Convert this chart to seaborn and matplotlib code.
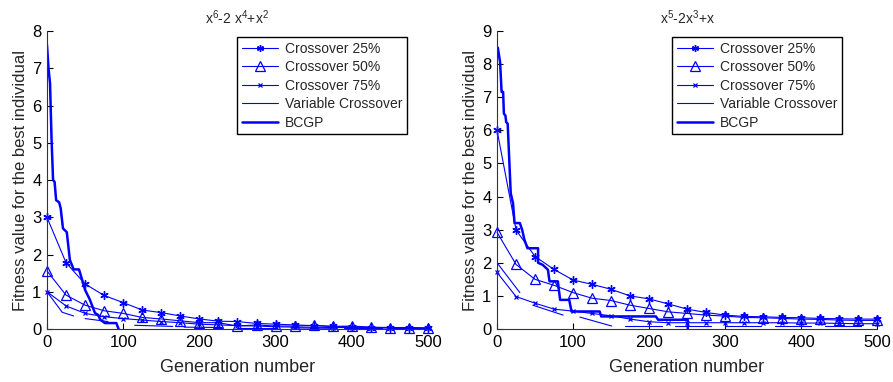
"""
plot.py - best-individual fitness vs generation, two test functions
"""

import numpy as np
import pandas as pd
import matplotlib
matplotlib.use("Agg")
import matplotlib.pyplot as plt
from matplotlib.lines import Line2D
import seaborn as sns

# ==================== data ====================

# markers every 25 generations
gens = list(range(0, 501, 25))

# --- x^6-2x^4+x^2 ---
left_c25 = [3.0, 1.78, 1.21, 0.9, 0.71, 0.51, 0.44, 0.35, 0.27, 0.21, 0.2,
            0.15, 0.13, 0.11, 0.09, 0.07, 0.06, 0.04, 0.03, 0.03, 0.02]
left_c50 = [1.56, 0.91, 0.64, 0.49, 0.42, 0.31, 0.27, 0.22, 0.17, 0.17, 0.08,
            0.11, 0.08, 0.08, 0.1, 0.07, 0.08, 0.05, 0.04, 0.04, 0.03]
left_c75 = [1.0, 0.62, 0.42, 0.33, 0.28, 0.24, 0.2, 0.17, 0.13, 0.11, 0.09,
            0.08, 0.06, 0.05, 0.05, 0.04, 0.04, 0.03, 0.03, 0.02, 0.02]
# variable crossover is drawn in broken pieces
left_var_gen = [0, 20, 35, 50, 80, 115, 165, 180, 230, 250, 300, 320, 370, 390, 440, 450, 500]
left_var_val = [1.0, 0.45, 0.35, 0.28, 0.2, 0.1, 0.07, 0.05, 0.04, 0.03, 0.03, 0.03, 0.02, 0.02, 0.02, 0.02, 0.02]
left_var_seg = [0, 0, 0, 1, 1, 2, 2, 3, 3, 4, 4, 5, 5, 6, 6, 7, 7]
left_bcgp_gen = [0, 2, 4, 6, 8, 10, 12, 16, 18, 21, 26, 30, 35, 42, 45, 50, 56,
                 63, 67, 70, 74, 76, 91, 94]
left_bcgp_val = [7.63, 7.0, 6.6, 5.1, 4.0, 3.95, 3.46, 3.4, 3.24, 2.7, 2.6, 1.86,
                 1.6, 1.6, 1.4, 1.05, 0.8, 0.43, 0.38, 0.25, 0.19, 0.16, 0.16, 0.0]

# --- x^5-2x^3+x ---
right_c25 = [6.0, 2.99, 2.19, 1.8, 1.48, 1.35, 1.2, 1.0, 0.91, 0.76, 0.6,
             0.5, 0.42, 0.38, 0.37, 0.35, 0.34, 0.32, 0.31, 0.3, 0.3]
right_c50 = [2.92, 1.95, 1.5, 1.32, 1.1, 0.93, 0.86, 0.72, 0.62, 0.52, 0.47,
             0.42, 0.39, 0.35, 0.34, 0.32, 0.3, 0.29, 0.27, 0.26, 0.26]
right_c75 = [1.71, 0.98, 0.78, 0.6, 0.54, 0.47, 0.4, 0.3, 0.22, 0.19, 0.19,
             0.19, 0.19, 0.19, 0.19, 0.19, 0.18, 0.18, 0.17, 0.16, 0.16]
right_var_gen = [0, 30, 47, 87, 109, 151, 168, 217, 234, 282, 300, 347, 366, 413, 432, 479]
right_var_val = [2.0, 1.1, 0.72, 0.42, 0.36, 0.09, 0.09, 0.09, 0.08, 0.08, 0.08, 0.08, 0.08, 0.08, 0.08, 0.08]
right_var_seg = [0, 0, 1, 1, 2, 2, 3, 3, 4, 4, 5, 5, 6, 6, 7, 7]
right_bcgp_gen = [1, 4, 6, 8, 9, 11, 12, 14, 18, 21, 23, 30, 33, 36, 40, 54, 54,
                  60, 67, 69, 80, 83, 95, 98, 135, 137, 209, 212, 251, 251]
right_bcgp_val = [8.5, 8.06, 7.16, 7.16, 6.5, 6.45, 6.25, 6.2, 4.1, 3.8, 3.2, 3.2,
                  3.0, 2.7, 2.44, 2.44, 2.0, 1.94, 1.79, 1.44, 1.44, 0.88, 0.88,
                  0.53, 0.53, 0.38, 0.38, 0.28, 0.28, 0.0]

BLUE = "#0000ff"
FONT = ["Liberation Sans", "DejaVu Sans"]


def draw_panel(ax, title, ymax, c25, c50, c75, var_gen, var_val, var_seg,
               bcgp_gen, bcgp_val, leg_x):
    """一个子图"""
    cross = pd.DataFrame({"gen": gens, "c25": c25, "c50": c50, "c75": c75})

    sns.lineplot(data=cross, x="gen", y="c25", ax=ax, color=BLUE, lw=0.8,
                 marker=(6, 2, 0), markersize=6, mec=BLUE, mew=1.0,
                 estimator=None, clip_on=False)
    sns.lineplot(data=cross, x="gen", y="c50", ax=ax, color=BLUE, lw=0.8,
                 marker="^", markersize=7, mfc="none", mec=BLUE, mew=0.9,
                 estimator=None, clip_on=False)
    sns.lineplot(data=cross, x="gen", y="c75", ax=ax, color=BLUE, lw=0.8,
                 marker="x", markersize=3.5, mec=BLUE, mew=0.9,
                 estimator=None, clip_on=False)

    var = pd.DataFrame({"gen": var_gen, "val": var_val, "seg": var_seg})
    sns.lineplot(data=var, x="gen", y="val", units="seg", estimator=None,
                 ax=ax, color=BLUE, lw=0.8)

    bcgp = pd.DataFrame({"gen": bcgp_gen, "val": bcgp_val})
    sns.lineplot(data=bcgp, x="gen", y="val", ax=ax, color=BLUE, lw=1.8,
                 estimator=None, sort=False)

    ax.set_xlim(0, 500)
    ax.set_ylim(0, ymax)
    ax.set_xticks(range(0, 501, 100))
    ax.set_yticks(range(0, ymax + 1))
    ax.tick_params(direction="in", length=4, width=0.8, labelsize=12,
                   colors="black", pad=4)
    for s in ["top", "right"]:
        ax.spines[s].set_visible(False)
    for s in ["left", "bottom"]:
        ax.spines[s].set_color("#333333")
        ax.spines[s].set_linewidth(0.8)

    ax.set_xlabel("Generation number", fontsize=13, labelpad=7)
    ax.set_ylabel("Fitness value for the best individual", fontsize=12, labelpad=3)
    ax.set_title(title, fontsize=10, pad=5)

    handles = [
        Line2D([], [], color=BLUE, lw=0.8, marker=(6, 2, 0), markersize=5, mew=1.0),
        Line2D([], [], color=BLUE, lw=0.8, marker="^", markersize=7, mfc="none", mew=0.9),
        Line2D([], [], color=BLUE, lw=0.8, marker="x", markersize=3, mew=0.9),
        Line2D([], [], color=BLUE, lw=0.8),
        Line2D([], [], color=BLUE, lw=1.8),
    ]
    labels = ["Crossover 25%", "Crossover 50%", "Crossover 75%",
              "Variable Crossover", "BCGP"]
    leg = ax.legend(handles, labels, loc="upper right",
                    bbox_to_anchor=(leg_x, 0.98), borderaxespad=0,
                    fontsize=10, handlelength=2.6,
                    handletextpad=0.5, labelspacing=0.32, borderpad=0.35,
                    fancybox=False, framealpha=1, edgecolor="black")
    leg.get_frame().set_linewidth(1.0)


sns.set_style("ticks")
plt.rcParams["font.family"] = FONT
plt.rcParams["mathtext.fontset"] = "custom"
plt.rcParams["mathtext.rm"] = "Liberation Sans"
plt.rcParams["mathtext.it"] = "Liberation Sans"

fig = plt.figure(figsize=(8.93, 3.82), dpi=100)
ax1 = fig.add_axes([0.0526, 0.1387, 0.4267, 0.7801])
ax2 = fig.add_axes([0.5566, 0.1387, 0.4255, 0.7801])

draw_panel(ax1, r"$\mathrm{x^6}$-2 $\mathrm{x^4}$+$\mathrm{x^2}$", 8,
           left_c25, left_c50, left_c75, left_var_gen, left_var_val, left_var_seg,
           left_bcgp_gen, left_bcgp_val, 0.945)
draw_panel(ax2, r"$\mathrm{x^5}$-2$\mathrm{x^3}$+x", 9,
           right_c25, right_c50, right_c75, right_var_gen, right_var_val, right_var_seg,
           right_bcgp_gen, right_bcgp_val, 0.908)

fig.savefig("out.png", dpi=100)
plt.close(fig)
